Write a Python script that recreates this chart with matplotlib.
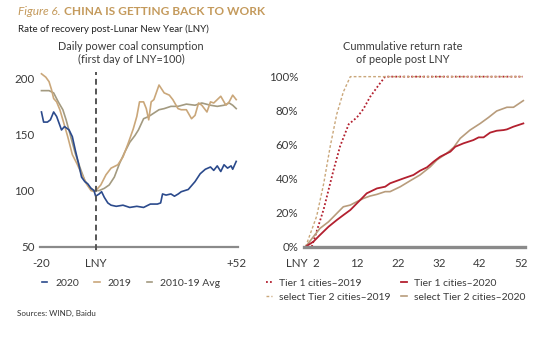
import matplotlib
matplotlib.use("Agg")
from matplotlib import pyplot as plt

plt.rcParams["font.family"] = ["Lato", "DejaVu Sans"]

# --- left panel: daily power coal consumption (first day of LNY = 100) ---
days_2020 = [-20, -19.2, -17.8, -16.7, -15.5, -14.4, -12.6, -11.5, -9.8, -8.6, -7.5, -6.3, -5.2, -4, -2.9,
             -1.7, -0.6, 0, 1.3, 2.2, 3.2, 4.5, 5.7, 7.6, 10.1, 12.6, 15.2, 17.7, 20.2, 22.8, 24, 24.7, 26,
             27.8, 29.1, 30.5, 31.6, 34.2, 36.7, 38.6, 40.5, 42.4, 43.6, 44.9, 46.2, 47.4, 48.7, 50, 50.6, 51.9]
coal_2020 = [170, 161, 161, 163, 170, 166, 154, 157, 154, 148, 136, 124, 112, 108, 106,
             102, 100, 95, 97, 99, 94, 89, 87, 86, 87, 85, 86, 85, 88, 88, 89, 97, 96,
             97, 95, 97, 99, 101, 108, 115, 119, 121, 118, 122, 117, 123, 120, 122, 119, 126]

days_2019 = [-20, -18.4, -17.2, -16.3, -15.5, -14.4, -13.2, -12.1, -10.3, -8.6, -6.9, -5.2, -3.4, -1.7, -0.3,
             1.9, 3.8, 5.7, 8.2, 10.1, 12, 13.9, 15.2, 16.2, 17.7, 18.7, 19.6, 20.5, 21.5, 23.4, 25.3, 27.2,
             28.5, 30.4, 31.6, 33.5, 35.4, 36.7, 38, 39.2, 41.1, 42.4, 43.6, 44.9, 46.2, 48.1, 49.3, 50.6, 51.9]
coal_2019 = [204, 201, 197, 190, 182, 179, 172, 163, 148, 132, 124, 115, 106, 100, 99,
             105, 114, 120, 123, 130, 142, 155, 166, 179, 179, 173, 163, 179, 181, 194, 187, 185,
             181, 173, 172, 172, 164, 167, 178, 176, 170, 179, 178, 181, 184, 176, 179, 185, 181]

days_avg = [-20, -17.2, -15.5, -13.8, -12.1, -10.9, -9.2, -7.5, -5.7, -4, -2.3, -0.6, 1.3, 3.2, 5, 6.9,
            8.8, 10.7, 12.6, 14.5, 15.8, 17.7, 19.6, 21.5, 23.4, 25.3, 27.8, 30.4, 33.5, 36.7, 39.2,
            42.4, 44.9, 47.4, 49.3, 50.6, 51.9]
coal_avg = [189, 189, 187, 179, 172, 163, 148, 133, 120, 109, 103, 100, 100, 102, 105, 112,
            124, 134, 143, 149, 154, 164, 166, 169, 172, 173, 175, 175, 177, 176, 178,
            176, 175, 176, 178, 176, 173]

left_ticks = [-20, 0, 52]
left_tick_labels = ["-20", "LNY", "+52"]
left_yticks = [50, 100, 150, 200]

# --- right panel: cumulative return rate of people post LNY (%) ---
days_t1_2019 = [1, 3.9, 6.3, 7.9, 10, 12, 13.6, 15.2, 17.3, 18.9, 52.5]
ret_t1_2019 = [0, 22, 45, 59, 72, 76, 81, 88, 95, 100, 100]

days_t2_2019 = [-0.5, 2.2, 3.9, 5.5, 7.1, 8.7, 10.4, 52.5]
ret_t2_2019 = [0, 18, 37, 59, 78, 91, 100, 100]

days_t1_2020 = [-0.5, 1.4, 3, 5.1, 7.1, 8.7, 10.4, 12, 13.6, 14.4, 16.9, 18.9, 20.1, 23.4, 25.8, 27.4,
                29.1, 30.7, 32.3, 34.8, 36, 38, 40.4, 41.7, 42.9, 44.5, 46.1, 47.8, 48.6, 50.2, 52.6]
ret_t1_2020 = [0, 3, 6.9, 11.8, 15.7, 18.6, 21.6, 25.5, 29.4, 31.4, 34.3, 35.3, 37.3, 40.2, 42.2, 44.7,
               46.7, 50, 52.9, 55.9, 58.8, 60.8, 62.7, 64.3, 64.3, 67.1, 68.2, 68.6, 69, 70.6, 72.5]

days_t2_2020 = [-0.5, 1.4, 3, 5.1, 7.1, 8.7, 10.4, 12, 13.6, 15.2, 16.9, 18.9, 20.1, 22.6, 25, 27.4,
                29.9, 31.5, 33.9, 35.6, 37.2, 39.6, 42.1, 44.1, 46.1, 48.6, 50.2, 52.6]
ret_t2_2020 = [0, 5.9, 10.8, 14.7, 19.6, 23.5, 24.5, 26.5, 28.4, 29.8, 30.8, 32.4, 32.4, 35.3, 38.8, 42.2,
               47, 51, 54.9, 58.4, 63.7, 68.6, 72.5, 76, 79.8, 82, 82, 85.9]

right_ticks = [0, 2, 12, 22, 32, 42, 52]
right_tick_labels = ["LNY", "2", "12", "22", "32", "42", "52"]
right_yticks = [0, 20, 40, 60, 80, 100]

BLUE = "#2b4a8c"
TAN_2019 = "#caa77a"
TAN_AVG = "#a39a80"
RED = "#b3202f"
TAN_T2 = "#b89c7c"
GOLD = "#c49a5c"
AXIS_GREY = "#8a8a8a"
TEXT = "#3a3a3a"

fig = plt.figure(figsize=(5.57, 3.49), dpi=100)

# header: italic figure number followed by a bold title
fig_no = fig.text(0.032, 0.966, "Figure 6.", fontsize=8.6, style="italic", color=GOLD, va="center")
renderer = fig.canvas.get_renderer()
bb = fig_no.get_window_extent(renderer=renderer)
fig.text((bb.x1 + 4) / fig.bbox.width, 0.966, "CHINA IS GETTING BACK TO WORK", fontsize=8.6,
         fontweight="bold", color=GOLD, va="center")
fig.text(0.032, 0.916, "Rate of recovery post-Lunar New Year (LNY)", fontsize=7, color="#222222", va="center")
fig.text(0.030, 0.103, "Sources: WIND, Baidu", fontsize=5.8, color="#333333", va="center")

ax1 = fig.add_axes([0.072, 0.293, 0.355, 0.502])
ax1.plot(days_avg, coal_avg, color=TAN_AVG, lw=1.2, label="2010-19 Avg", zorder=2)
ax1.plot(days_2019, coal_2019, color=TAN_2019, lw=1.2, label="2019", zorder=3)
ax1.plot(days_2020, coal_2020, color=BLUE, lw=1.2, label="2020", zorder=4)
ax1.axvline(0, color="#555555", lw=1.4, dashes=(3, 2), ymin=-0.02, clip_on=False, zorder=5)
ax1.set_xlim(-20.5, 52.5)
ax1.set_ylim(50, 206)
ax1.set_xticks(left_ticks)
ax1.set_xticklabels(left_tick_labels)
ax1.set_yticks(left_yticks)
ax1.set_title("Daily power coal consumption\n(first day of LNY=100)", fontsize=7.8, color=TEXT,
              linespacing=1.2, pad=6, x=0.46)

ax2 = fig.add_axes([0.545, 0.293, 0.3975, 0.502])
l_t1_19, = ax2.plot(days_t1_2019, ret_t1_2019, color=RED, lw=1.3, ls=(0, (1, 1.2)), label="Tier 1 cities\u20132019")
l_t2_19, = ax2.plot(days_t2_2019, ret_t2_2019, color=TAN_2019, lw=1.0, ls=(0, (2, 1.5)), label="select Tier 2 cities\u20132019")
l_t2_20, = ax2.plot(days_t2_2020, ret_t2_2020, color=TAN_T2, lw=1.2, label="select Tier 2 cities\u20132020")
l_t1_20, = ax2.plot(days_t1_2020, ret_t1_2020, color=RED, lw=1.3, label="Tier 1 cities\u20132020")
ax2.set_xlim(-1, 53)
ax2.set_ylim(0, 103)
ax2.set_xticks(right_ticks)
ax2.set_xticklabels(right_tick_labels)
ax2.get_xticklabels()[0].set_horizontalalignment("right")
ax2.set_yticks(right_yticks)
ax2.set_yticklabels([f"{v}%" for v in right_yticks])
ax2.set_title("Cummulative return rate\nof people post LNY", fontsize=7.9, color=TEXT,
              linespacing=1.2, pad=6, x=0.45)

for ax, lw in ((ax1, 1.6), (ax2, 2.4)):
    for side in ("top", "right", "left"):
        ax.spines[side].set_visible(False)
    ax.spines["bottom"].set_color(AXIS_GREY)
    ax.spines["bottom"].set_linewidth(lw)
    ax.tick_params(length=0, labelsize=8.3, labelcolor=TEXT)
    ax.tick_params(axis="x", pad=8)
    ax.tick_params(axis="y", pad=4)

h1, lab1 = ax1.get_legend_handles_labels()
order = [2, 1, 0]
fig.legend([h1[i] for i in order], [lab1[i] for i in order], loc="center left",
           bbox_to_anchor=(42 / 557, 1 - 283 / 349), ncol=3, frameon=False, fontsize=7.5,
           handlelength=0.5, handletextpad=0.75, columnspacing=1.5, labelcolor=TEXT,
           borderpad=0, borderaxespad=0)
fig.legend([l_t1_19, l_t2_19, l_t1_20, l_t2_20],
           [l_t1_19.get_label(), l_t2_19.get_label(), l_t1_20.get_label(), l_t2_20.get_label()],
           loc="center left", bbox_to_anchor=(266 / 557, 1 - 290 / 349), ncol=2, frameon=False,
           fontsize=7.5, handlelength=0.6, handletextpad=0.65, columnspacing=1.0, labelspacing=0.45,
           labelcolor=TEXT, borderpad=0, borderaxespad=0)

fig.savefig("out.png", dpi=100)
